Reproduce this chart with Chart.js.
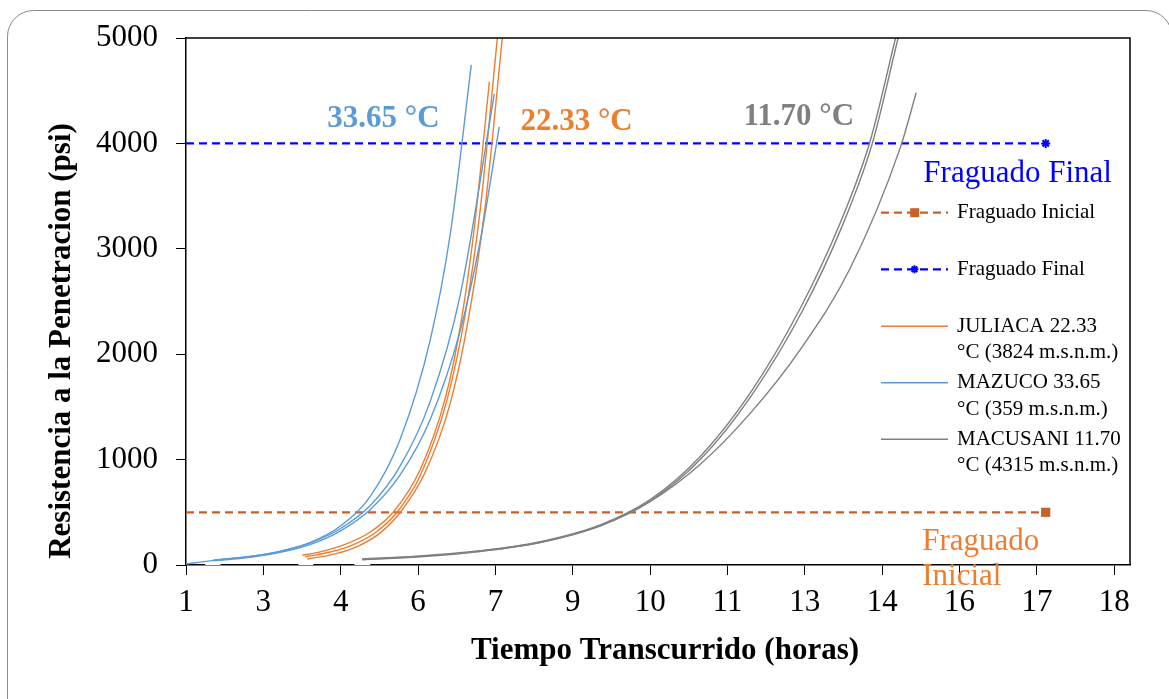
<!DOCTYPE html>
<html><head><meta charset="utf-8">
<script src="https://cdn.jsdelivr.net/npm/chart.js@4.4.0/dist/chart.umd.min.js"></script>
<style>html,body{margin:0;padding:0;background:#fff;}#wrap{width:1169px;height:699px;position:relative;}</style>
</head><body><div id="wrap"><canvas id="c" width="1169" height="699"></canvas></div>
<script>
// ---------- DATA ----------
const xTickValues = [1.47, 2.88, 4.29, 5.70, 7.11, 8.52, 9.93, 11.34, 12.75, 14.16, 15.57, 16.98, 18.39];
const xTickLabels = ['1','3','4','6','7','9','10','11','13','14','16','17','18'];
const yTickValues = [0, 1000, 2000, 3000, 4000, 5000];

// MAZUCO 33.65 °C  [horas, psi]
const mazuco1 = [[1.47,9],[1.97,44],[2.64,80],[3.19,129],[3.74,215],[4.28,367],[4.83,652],[5.37,1188],[5.92,2132],[6.29,3150],[6.67,4745]];
const mazuco2 = [[1.97,46],[2.64,81],[3.19,131],[3.74,211],[4.28,344],[4.83,565],[5.37,936],[5.92,1550],[6.47,2566],[7.09,4470]];
const mazuco3 = [[1.97,40],[2.64,73],[3.19,120],[3.74,196],[4.28,322],[4.83,527],[5.37,852],[5.92,1378],[6.47,2226],[6.83,3065],[7.18,4156]];
// JULIACA 22.33 °C
const juliaca1 = [[3.59,92],[3.92,125],[4.37,195],[4.83,313],[5.25,503],[5.74,906],[6.20,1590],[6.47,2262],[6.72,3176],[7.00,4585]];
const juliaca2 = [[3.64,77],[4.10,123],[4.50,189],[4.92,306],[5.32,503],[5.74,849],[6.23,1572],[6.56,2379],[6.83,3359],[7.16,5078]];
const juliaca3 = [[3.68,57],[4.19,106],[4.61,180],[5.01,305],[5.38,503],[5.83,880],[6.29,1541],[6.61,2311],[6.92,3388],[7.25,5078]];
// MACUSANI 11.70 °C
const macusani1 = [[4.68,57],[5.74,86],[6.83,135],[7.93,221],[9.02,380],[9.93,620],[10.84,1028],[11.75,1628],[12.66,2429],[13.39,3240],[13.94,4021],[14.41,5014]];
const macusani2 = [[4.70,52],[5.75,83],[6.84,132],[7.95,218],[9.04,375],[9.95,612],[10.87,1015],[11.78,1610],[12.70,2405],[13.43,3215],[13.98,4000],[14.45,5000]];
const macusani3 = [[4.68,50],[5.74,78],[6.83,128],[7.93,212],[9.02,373],[9.93,602],[10.84,954],[11.75,1436],[12.66,2039],[13.57,2808],[14.49,3960],[14.78,4480]];
// Fraguado lines
const fraguadoInicial = [[1.47,500],[17.14,500]];
const fraguadoFinal = [[1.47,4000],[17.14,4000]];
// hidden white series segments lying on the time axis
const axisGaps = [[1.82,0],[2.10,0],null,[3.52,0],[3.79,0],null,[4.54,0],[4.83,0]];

const legendLabels = ['Fraguado Inicial','Fraguado Final','JULIACA 22.33\n°C (3824 m.s.n.m.)','MAZUCO 33.65\n°C (359 m.s.n.m.)','MACUSANI 11.70\n°C (4315 m.s.n.m.)'];
const annotationTexts = ['33.65 °C','22.33 °C','11.70 °C','Fraguado Final','Fraguado','Inicial'];
const annotationX = [5.07, 8.59, 12.64, 14.91, 14.89, 14.89];
const annotationY = [4232, 4199, 4246, 3637, 142, -190];

// ---------- STYLE ----------
const SERIF = "'Liberation Serif','Times New Roman',serif";
const C_BLUE = '#5B9BD5', C_ORANGE = '#ED7D31', C_GRAY = '#808080';
const C_INI = '#C5622A', C_FIN = '#0000FF';

const toXY = arr => arr.map(p => p ? ({x: p[0], y: p[1]}) : {x: null, y: null});
function curve(arr, color){
  return {data: toXY(arr), borderColor: color, borderWidth: 1.4, pointRadius: 0, fill: false,
          cubicInterpolationMode: 'monotone'};
}
const datasets = [
  {data: toXY(axisGaps), borderColor: '#fff', borderWidth: 3, pointRadius: 0, spanGaps: false},
  curve(mazuco1, C_BLUE), curve(mazuco2, C_BLUE), curve(mazuco3, C_BLUE),
  curve(juliaca1, C_ORANGE), curve(juliaca2, C_ORANGE), curve(juliaca3, C_ORANGE),
  curve(macusani1, C_GRAY), curve(macusani2, C_GRAY), curve(macusani3, C_GRAY),
  {data: toXY(fraguadoInicial), borderColor: C_INI, borderWidth: 2.3, borderDash: [8,5],
   pointRadius: [0, 6.5], pointStyle: 'rect', pointBackgroundColor: C_INI, pointBorderColor: C_INI, pointBorderWidth: 0},
  {data: toXY(fraguadoFinal), borderColor: C_FIN, borderWidth: 2.3, borderDash: [8,5],
   pointRadius: [0, 4.5], pointStyle: 'star', pointBackgroundColor: C_FIN, pointBorderColor: C_FIN, pointBorderWidth: 2}
];

const annColors = [C_BLUE, C_ORANGE, C_GRAY, C_FIN, C_ORANGE, C_ORANGE];
const annBold = [true, true, true, false, false, false];
const annAlign = ['center','center','center','left','left','left'];
const annBase = ['middle','middle','middle','alphabetic','alphabetic','alphabetic'];

function drawMarker(ctx, type, x, y, color){
  ctx.save();
  ctx.fillStyle = color; ctx.strokeStyle = color;
  if (type === 'rect') { ctx.fillRect(x-4.5, y-4.5, 9, 9); }
  else {
    ctx.lineWidth = 2; ctx.beginPath();
    for (let i=0;i<4;i++){ const a = i*Math.PI/4; ctx.moveTo(x-4*Math.cos(a), y-4*Math.sin(a)); ctx.lineTo(x+4*Math.cos(a), y+4*Math.sin(a)); }
    ctx.stroke();
  }
  ctx.restore();
}

const decor = {
  id: 'decor',
  beforeDraw(chart){
    const ctx = chart.ctx; ctx.save();
    ctx.fillStyle = '#fff'; ctx.fillRect(0,0,chart.width,chart.height);
    ctx.strokeStyle = '#8a8a8a'; ctx.lineWidth = 1;
    const x0=7.5, y0=10.5, x1=1172, y1=740, r=26;
    ctx.beginPath(); ctx.moveTo(x0, y1); ctx.lineTo(x0, y0+r);
    ctx.arcTo(x0, y0, x0+r, y0, r); ctx.lineTo(x1-r, y0); ctx.arcTo(x1, y0, x1, y0+r, r); ctx.lineTo(x1, y1);
    ctx.stroke();
    ctx.restore();
  },
  afterDraw(chart){
    const ctx = chart.ctx, a = chart.chartArea, xs = chart.scales.x, ys = chart.scales.y;
    ctx.save();
    // frame top/right
    ctx.strokeStyle = '#000'; ctx.lineWidth = 1.5;
    ctx.beginPath(); ctx.moveTo(a.left, a.top); ctx.lineTo(a.right, a.top); ctx.lineTo(a.right, a.bottom); ctx.stroke();
    // annotations
    for (let i=0;i<annotationTexts.length;i++){
      ctx.font = (annBold[i]?'bold ':'') + '31px ' + SERIF;
      ctx.fillStyle = annColors[i]; ctx.textAlign = annAlign[i]; ctx.textBaseline = annBase[i];
      ctx.fillText(annotationTexts[i], xs.getPixelForValue(annotationX[i]), ys.getPixelForValue(annotationY[i]));
    }
    // legend
    const lx0 = 881, lx1 = 948, tx = 957;
    const rowsY = [212.7, 269.3, 326.3, 382.7, 439.3];
    const legColors = [C_INI, C_FIN, C_ORANGE, C_BLUE, C_GRAY];
    ctx.font = '21px ' + SERIF; ctx.textAlign = 'left'; ctx.textBaseline = 'middle';
    for (let i=0;i<legendLabels.length;i++){
      const y = rowsY[i];
      ctx.save();
      ctx.strokeStyle = legColors[i];
      if (i < 2) { ctx.lineWidth = 2.3; ctx.setLineDash([8,5]); } else { ctx.lineWidth = 1.4; }
      ctx.beginPath(); ctx.moveTo(lx0, y); ctx.lineTo(lx1, y); ctx.stroke();
      ctx.restore();
      if (i === 0) drawMarker(ctx, 'rect', 914.7, y, C_INI);
      if (i === 1) drawMarker(ctx, 'star', 914.5, y, C_FIN);
      ctx.fillStyle = '#000';
      legendLabels[i].split('\n').forEach((ln, j) => ctx.fillText(ln, tx, y + j*26.5));
    }
    // axis titles
    ctx.fillStyle = '#000'; ctx.font = 'bold 31px ' + SERIF; ctx.textAlign = 'center'; ctx.textBaseline = 'middle';
    ctx.fillText('Tiempo Transcurrido (horas)', 665, 651);
    ctx.translate(62, 341); ctx.rotate(-Math.PI/2);
    ctx.fillText('Resistencia a la Penetracion (psi)', 0, 0);
    ctx.restore();
  }
};

new Chart(document.getElementById('c'), {
  type: 'line',
  data: { datasets },
  plugins: [decor],
  options: {
    responsive: false, animation: false, events: [],
    layout: { padding: { top: 38, right: 39, bottom: 0, left: 0 } },
    plugins: { legend: { display: false }, tooltip: { enabled: false }, title: { display: false } },
    scales: {
      x: {
        type: 'linear', min: 1.47, max: 18.677,
        afterBuildTicks: s => { s.ticks = xTickValues.map(v => ({ value: v })); },
        afterFit: s => { s.height = 134; },
        ticks: { autoSkip: false, maxRotation: 0, padding: 9, color: '#000',
                 font: { family: SERIF, size: 31 },
                 callback: (v, i) => xTickLabels[i] },
        grid: { drawOnChartArea: false, drawTicks: true, tickLength: 10, color: '#000', lineWidth: 1 },
        border: { display: true, color: '#000', width: 1.5 }
      },
      y: {
        type: 'linear', min: 0, max: 5000,
        afterBuildTicks: s => { s.ticks = yTickValues.map(v => ({ value: v })); },
        afterFit: s => { s.width = 186; },
        ticks: { padding: 18, color: '#000', font: { family: SERIF, size: 31 },
                 callback: v => String(v) },
        grid: { drawOnChartArea: false, drawTicks: true, tickLength: 10, color: '#000', lineWidth: 1 },
        border: { display: true, color: '#000', width: 1.5 }
      }
    }
  }
});
</script></body></html>
